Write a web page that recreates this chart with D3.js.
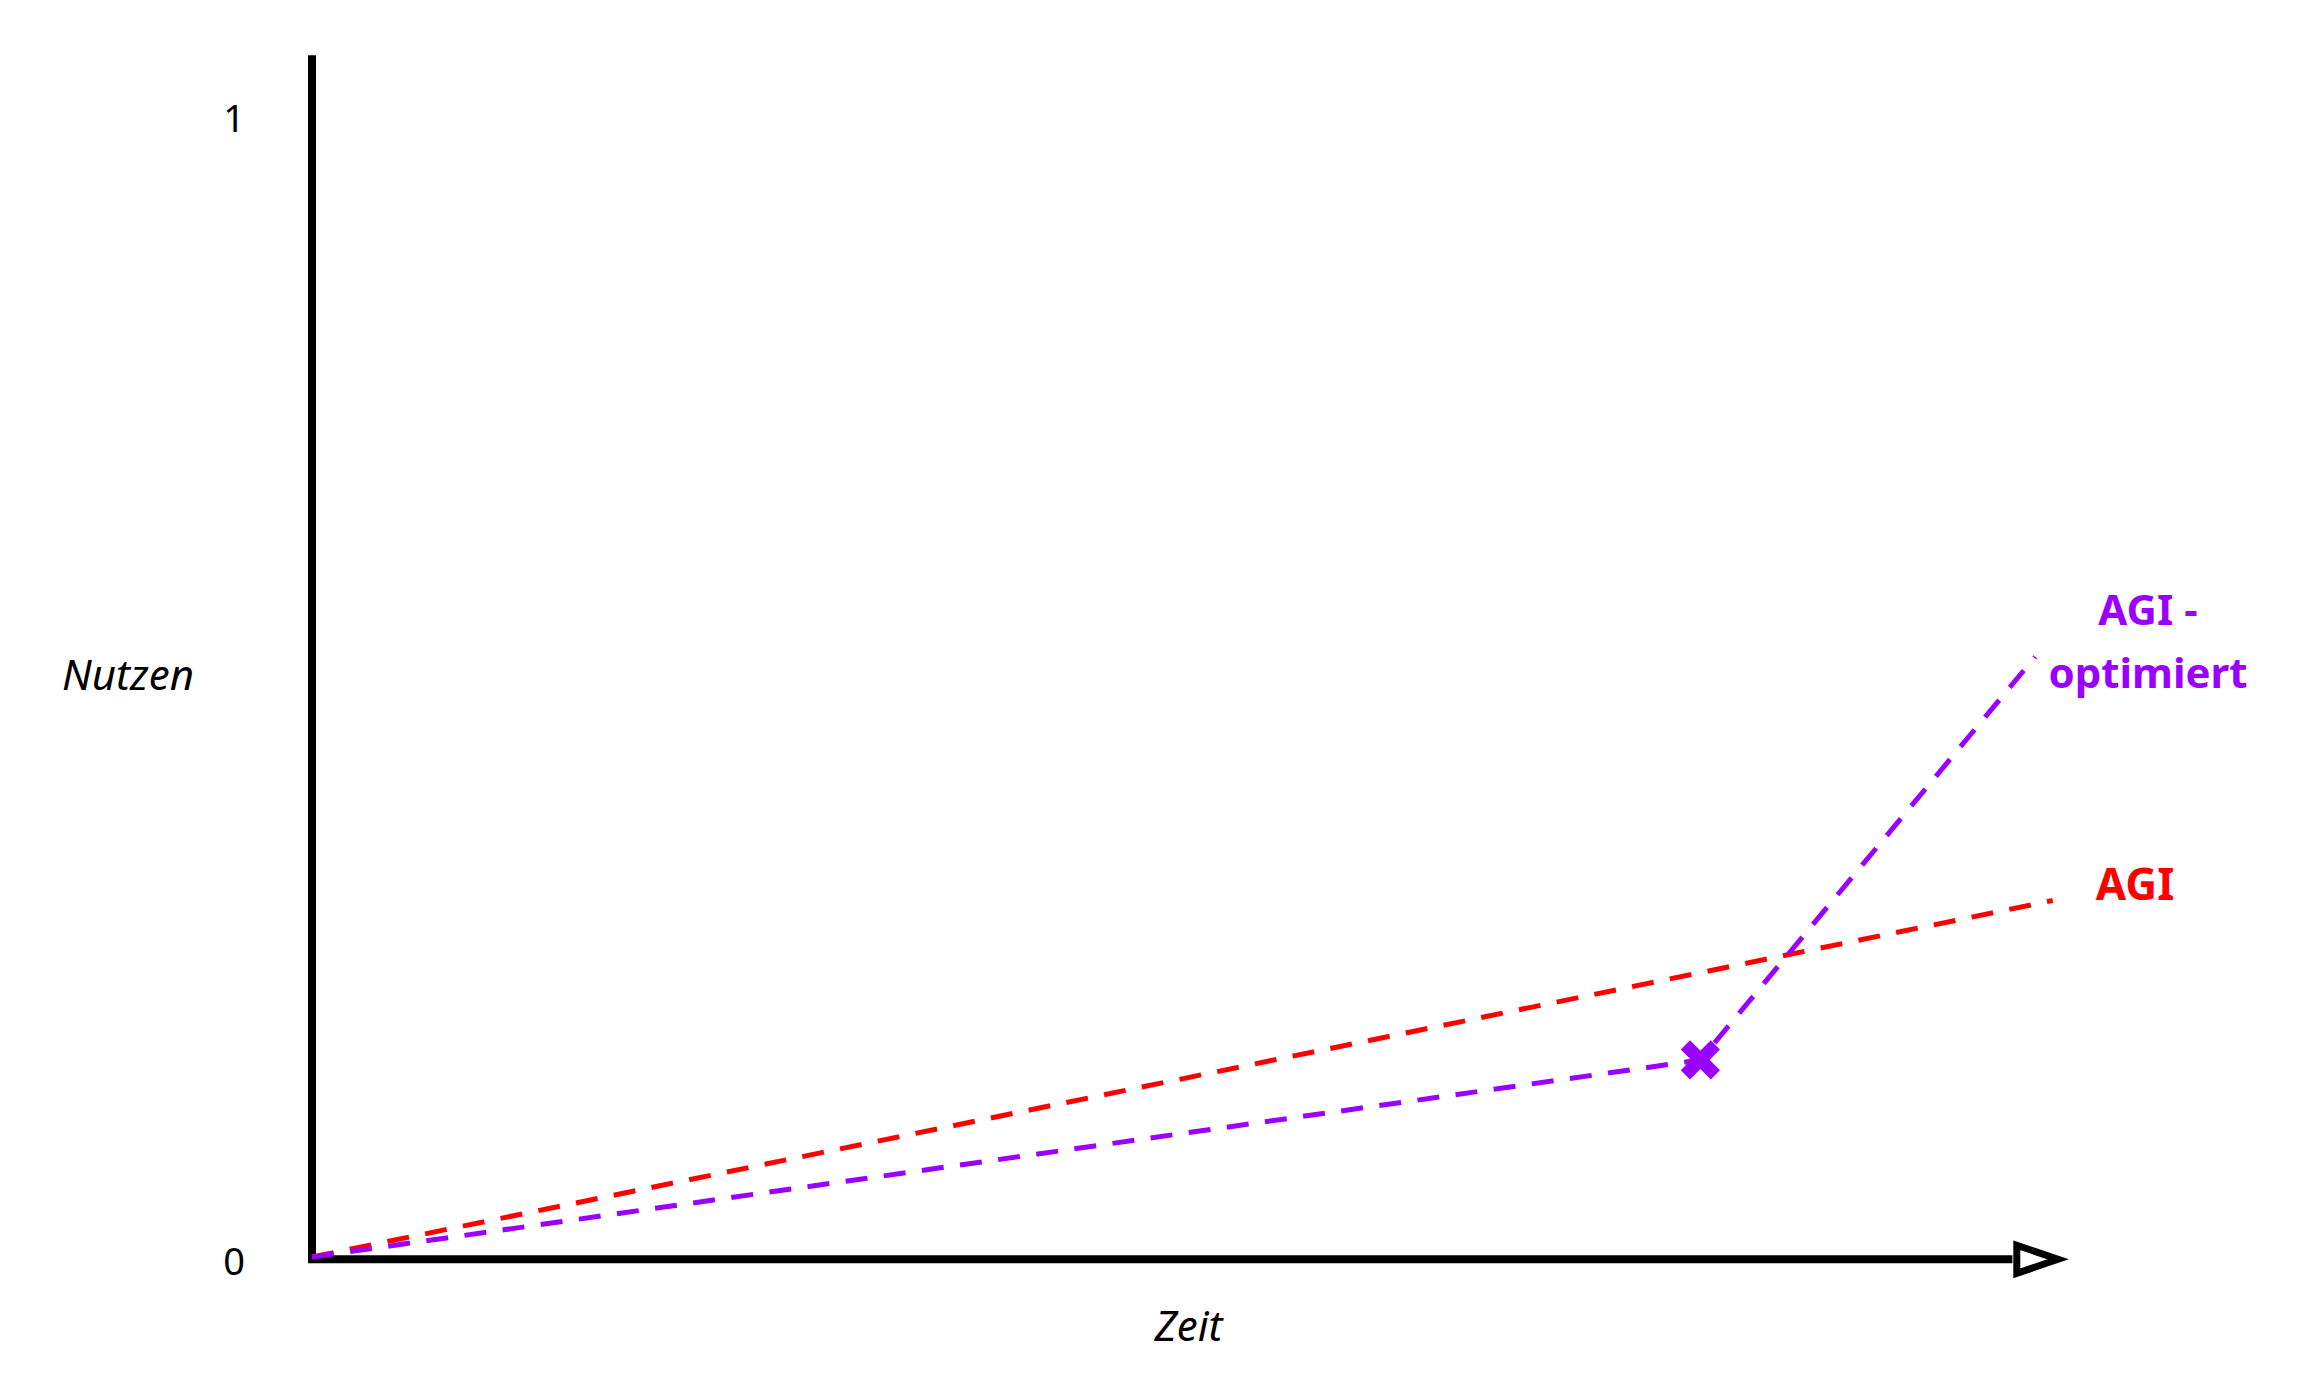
<!DOCTYPE html>
<html>
<head>
<meta charset="utf-8">
<script src="https://cdn.jsdelivr.net/npm/d3@7"></script>
<style>
  html, body { margin: 0; padding: 0; background: #fff; }
  svg { display: block; }
</style>
</head>
<body>
<script>
// ---- data ----
const yTickValues = [0, 1];
const yTickLabels = ["0", "1"];
const xAxisLabel = "Zeit";
const yAxisLabel = "Nutzen";

const agiX = [0, 99.3];
const agiY = [0, 0.313];

const agiOptX = [0, 79.2, 98.3];
const agiOptY = [0, 0.173, 0.527];
const agiOptMarkerIndex = 1;

const seriesNames = ["AGI", "AGI -\noptimiert"];
const seriesColors = ["#ff0000", "#9900ff"];

// ---- layout ----
const W = 2308, H = 1376;
const svg = d3.select("body").append("svg").attr("width", W).attr("height", H);

const x = d3.scaleLinear().domain([0, 100]).range([312, 2065]);
const y = d3.scaleLinear().domain([0, 1]).range([1257, 118]);

// y axis (ticks only as labels)
const yAxis = d3.axisLeft(y).tickValues(yTickValues)
  .tickFormat((d, i) => yTickLabels[i]).tickSize(0).tickPadding(0);
const gy = svg.append("g").attr("transform", `translate(${x(0)},0)`).call(yAxis);
gy.select(".domain").remove();
gy.selectAll("text")
  .attr("x", -78).attr("dy", d => d === 0 ? "0.45em" : "0.35em")
  .attr("text-anchor", "middle")
  .style("font-family", "'Noto Sans', sans-serif")
  .style("font-size", "38px").attr("fill", "#000");

// axis lines
svg.append("line")
  .attr("x1", x(0)).attr("x2", x(0))
  .attr("y1", y(1.055)).attr("y2", y(-0.005))
  .attr("stroke", "#000").attr("stroke-width", 8);
svg.append("line")
  .attr("x1", x(0) - 4).attr("x2", x(97))
  .attr("y1", y(-0.002)).attr("y2", y(-0.002))
  .attr("stroke", "#000").attr("stroke-width", 8);
// arrow head
const ay = y(-0.002);
svg.append("path")
  .attr("d", d3.line()([[x(97.25), ay - 14], [x(99.6), ay], [x(97.25), ay + 14]]) + "Z")
  .attr("fill", "#fff").attr("stroke", "#000").attr("stroke-width", 7)
  .attr("stroke-linejoin", "miter");

// axis titles
svg.append("text").text(yAxisLabel)
  .attr("x", 128).attr("y", 690).attr("text-anchor", "middle")
  .style("font-family", "'Noto Sans', sans-serif").style("font-style", "italic")
  .style("font-size", "42px").attr("fill", "#000");
svg.append("text").text(xAxisLabel)
  .attr("x", x(50)).attr("y", 1341).attr("text-anchor", "middle")
  .style("font-family", "'Noto Sans', sans-serif").style("font-style", "italic")
  .style("font-size", "42px").attr("fill", "#000");

// lines
const line = d3.line().x(d => x(d[0])).y(d => y(d[1]));
const agiData = agiX.map((v, i) => [v, agiY[i]]);
const optData = agiOptX.map((v, i) => [v, agiOptY[i]]);

svg.append("path").datum(agiData).attr("d", line)
  .attr("fill", "none").attr("stroke", seriesColors[0]).attr("stroke-width", 5)
  .attr("stroke-dasharray", "22,16.5");
svg.append("path").datum(optData).attr("d", line)
  .attr("fill", "none").attr("stroke", seriesColors[1]).attr("stroke-width", 5)
  .attr("stroke-dasharray", "22,16.5");

// X marker
const mx = x(optData[agiOptMarkerIndex][0]), my = y(optData[agiOptMarkerIndex][1]);
const s = 15;
svg.append("path")
  .attr("d", `M${mx - s},${my - s}L${mx + s},${my + s}M${mx - s},${my + s}L${mx + s},${my - s}`)
  .attr("stroke", seriesColors[1]).attr("stroke-width", 13).attr("fill", "none");

// series labels
svg.append("text").text(seriesNames[0])
  .attr("x", 2135).attr("y", 900).attr("text-anchor", "middle")
  .style("font-family", "'Noto Sans', sans-serif").style("font-weight", "bold")
  .style("font-size", "44px").attr("fill", seriesColors[0]);

const lbl = svg.append("text")
  .attr("text-anchor", "middle")
  .style("font-family", "'Noto Sans', sans-serif").style("font-weight", "bold")
  .style("font-size", "42px").attr("fill", seriesColors[1]);
seriesNames[1].split("\n").forEach((t, i) => {
  lbl.append("tspan").text(t).attr("x", 2148).attr("y", 625 + i * 63);
});
</script>
</body>
</html>
